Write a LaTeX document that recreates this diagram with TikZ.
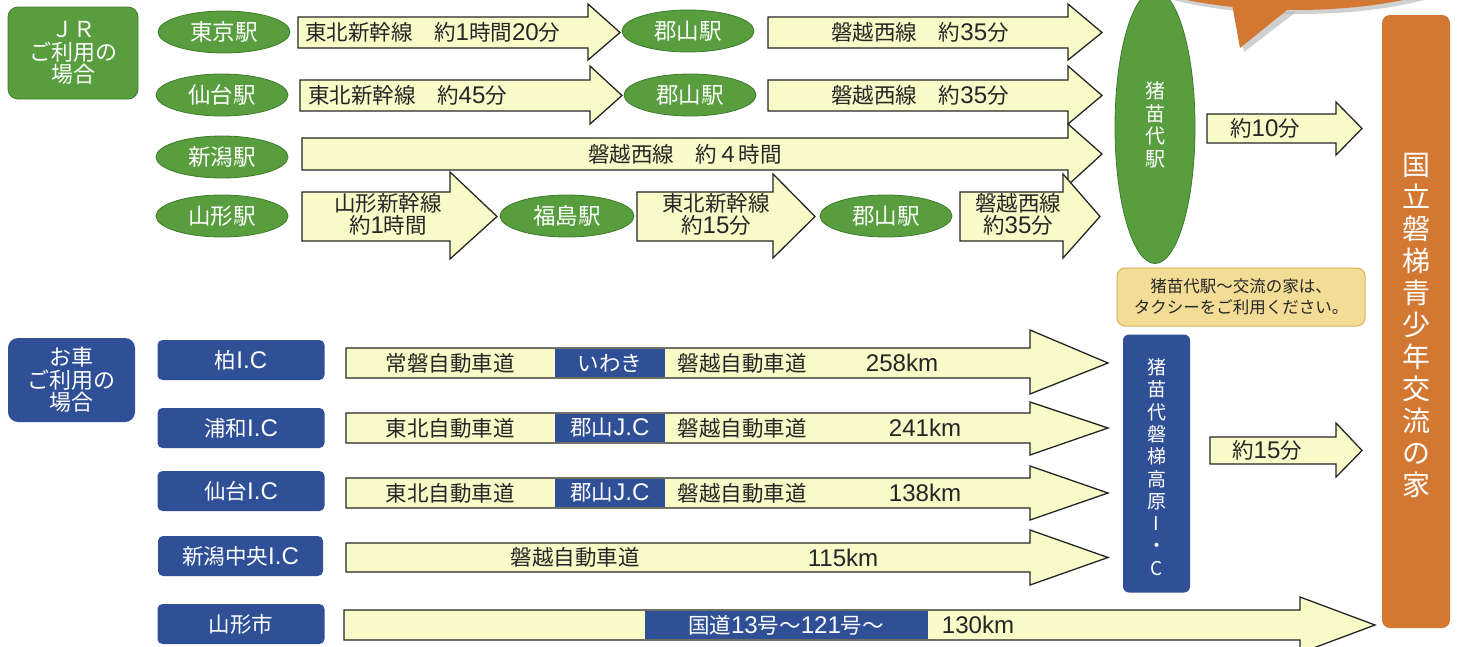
\documentclass[tikz,border=0pt]{standalone}
\usepackage{fontspec}
\setmainfont{Noto Sans CJK JP}
\newfontfamily\latnfont[Scale=1.12]{Liberation Sans}
\newcommand\lt[1]{{\latnfont #1}}
\usetikzlibrary{shapes.geometric}
\definecolor{jrgreen}{HTML}{589E3E}
\definecolor{jrgreenD}{HTML}{3D7A2C}
\definecolor{carblue}{HTML}{2F4F96}
\definecolor{orng}{HTML}{D27832}
\definecolor{ayel}{HTML}{F8FAC8}
\definecolor{notefill}{HTML}{F3DC96}
\definecolor{noteline}{HTML}{D7B45A}
\definecolor{ink}{HTML}{262626}
\tikzset{
  station/.style={ellipse, fill=jrgreen, draw=jrgreenD, line width=0.8pt, text=white,
    font=\fontsize{22.5}{22}\selectfont, minimum width=132pt, minimum height=42pt, inner sep=0pt},
  icbox/.style={rectangle, rounded corners=5pt, fill=carblue, text=white,
    font=\fontsize{21.5}{22}\selectfont, minimum width=167pt, minimum height=40pt, inner sep=0pt},
  headbox/.style={rectangle, rounded corners=10pt, text=white, align=center,
    font=\fontsize{22}{22.5}\selectfont, inner sep=0pt},
  arrowbox/.style={fill=ayel, draw=ink, line width=1.3pt, line join=miter},
  lbl/.style={text=ink, font=\fontsize{21.5}{22}\selectfont, inner sep=0pt, align=center},
  wlbl/.style={text=white, font=\fontsize{21.5}{22}\selectfont, inner sep=0pt},
}
% x1, x2 (head base), ytop, ybot, head top, head bottom, tip x
\newcommand\blkarrow[7]{%
  \draw[arrowbox] (#1,#3) -- (#2,#3) -- (#2,#5) -- (#7,{(#3+#4)/2}) -- (#2,#6) -- (#2,#4) -- (#1,#4) -- cycle;}
\begin{document}
\begin{tikzpicture}[x=1pt,y=-1pt]
\useasboundingbox (0,0) rectangle (1463,646);
\fill[white] (0,0) rectangle (1463,646);

% speech bubble (cut off at the top)
\fill[black!30, opacity=0.6] (1299,-36) ellipse [x radius=180, y radius=50];
\fill[black!30, opacity=0.6] (1236,9) -- (1244,52) -- (1296,12) -- cycle;
\fill[orng] (1295,-40) ellipse [x radius=180, y radius=50];
\fill[orng] (1232,4) -- (1240,48) -- (1292,6) -- cycle;

% destination
\node[rectangle, rounded corners=8pt, fill=orng, minimum width=68pt, minimum height=613pt, inner sep=0pt] (dest) at (1416,321.5) {};
\node[text=white, align=center, font=\fontsize{28}{32}\selectfont, inner sep=0pt] (destlbl) at (1416,326)
  {国\\立\\磐\\梯\\青\\少\\年\\交\\流\\の\\家};

% headers
\node[headbox, fill=jrgreen, draw=jrgreenD, line width=0.8pt, minimum width=130pt, minimum height=92pt] (jr) at (73,53) {ＪＲ\\ご利用の\\場合};
\node[headbox, fill=carblue, minimum width=127pt, minimum height=84pt] (car) at (71.5,380) {お車\\ご利用の\\場合};

% ---------------- JR rows ----------------
\node[station] (tokyo) at (224,32) {東京駅};
\node[station] (sendai) at (222,95) {仙台駅};
\node[station] (niigata) at (222,157) {新潟駅};
\node[station] (yamagata) at (222,216) {山形駅};
\node[station] (koriyamaA) at (688,31) {郡山駅};
\node[station] (koriyamaB) at (690,95) {郡山駅};
\node[station, minimum width=134pt] (fukushima) at (567,216) {福島駅};
\node[station] (koriyamaC) at (886,216) {郡山駅};
\node[ellipse, fill=jrgreen, draw=jrgreenD, line width=0.8pt, minimum width=80pt, minimum height=273pt, inner sep=0pt] (inawashiro) at (1155,127) {};
\node[text=white, align=center, font=\fontsize{20}{22.5}\selectfont, inner sep=0pt] (inawashirolbl) at (1155,125) {猪\\苗\\代\\駅};

\blkarrow{298}{588}{17}{48}{4}{60}{620}
\node[lbl, anchor=west] (t1a) at (305,32.5) {東北新幹線　約\lt{1}時間\lt{20}分};
\blkarrow{768}{1068}{17}{48}{4}{60}{1102}
\node[lbl] (t1b) at (920,32.5) {磐越西線　約\lt{35}分};

\blkarrow{300}{590}{80}{111}{66}{124}{622}
\node[lbl, anchor=west] (t2a) at (308,95.5) {東北新幹線　約\lt{45}分};
\blkarrow{768}{1068}{80}{111}{66}{124}{1102}
\node[lbl] (t2b) at (920,95.5) {磐越西線　約\lt{35}分};

\blkarrow{302}{1068}{138}{170}{124}{185}{1102}
\node[lbl] (t3) at (685,154) {磐越西線　約４時間};

\blkarrow{302}{450}{192}{241}{172}{259}{497}
\node[lbl] (t4a) at (388,214) {山形新幹線\\約\lt{1}時間};
\blkarrow{637}{773}{192}{241}{174}{258}{815}
\node[lbl] (t4b) at (716,214) {東北新幹線\\約\lt{15}分};
\blkarrow{960}{1063}{192}{241}{174}{258}{1100}
\node[lbl] (t4c) at (1018,214) {磐越西線\\約\lt{35}分};

\blkarrow{1207}{1336}{114}{143}{102}{155}{1362}
\node[lbl] (t10) at (1265,128.5) {約\lt{10}分};

\node[rectangle, rounded corners=8pt, fill=notefill, draw=noteline, line width=1pt, minimum width=248pt, minimum height=58pt, inner sep=0pt,
  text=ink, align=center, font=\fontsize{16.5}{21}\selectfont] (note) at (1241,297) {猪苗代駅～交流の家は、\\タクシーをご利用ください。};

% ---------------- Car rows ----------------
\node[icbox] (kashiwa) at (241,360) {柏\lt{I.C}};
\node[icbox] (urawa) at (241,428) {浦和\lt{I.C}};
\node[icbox] (sendaiic) at (241,491) {仙台\lt{I.C}};
\node[icbox, minimum width=165pt] (niigataic) at (240.5,556) {新潟中央\lt{I.C}};
\node[icbox] (yamagatacity) at (241,624) {山形市};

\node[rectangle, rounded corners=6pt, fill=carblue, minimum width=67pt, minimum height=258pt, inner sep=0pt] (bandaiic) at (1156.5,463.5) {};
\node[text=white, align=center, font=\fontsize{19}{22.3}\selectfont, inner sep=0pt] (bandaiiclbl) at (1156.5,467)
  {猪\\苗\\代\\磐\\梯\\高\\原\\I\\・\\C};

\blkarrow{346}{1030}{348}{378}{330}{394}{1108}
\fill[carblue] (555,348.65) rectangle (665,377.35);
\node[lbl] (cA1) at (450,363) {常磐自動車道};
\node[wlbl] (cA2) at (610,363) {いわき};
\node[lbl] (cA3) at (742,363) {磐越自動車道};
\node[lbl] (cA4) at (902,363) {\lt{258km}};

\blkarrow{346}{1030}{413}{443}{402}{455}{1108}
\fill[carblue] (555,413.65) rectangle (665,442.35);
\node[lbl] (cB1) at (450,428) {東北自動車道};
\node[wlbl] (cB2) at (610,428) {郡山\lt{J.C}};
\node[lbl] (cB3) at (742,428) {磐越自動車道};
\node[lbl] (cB4) at (925,428) {\lt{241km}};

\blkarrow{346}{1030}{478}{508}{466}{520}{1108}
\fill[carblue] (555,478.65) rectangle (665,507.35);
\node[lbl] (cC1) at (450,493) {東北自動車道};
\node[wlbl] (cC2) at (610,493) {郡山\lt{J.C}};
\node[lbl] (cC3) at (742,493) {磐越自動車道};
\node[lbl] (cC4) at (925,493) {\lt{138km}};

\blkarrow{346}{1030}{543}{572}{530}{585}{1108}
\node[lbl] (cD1) at (575,557.5) {磐越自動車道};
\node[lbl] (cD2) at (843,557.5) {\lt{115km}};

\blkarrow{344}{1300}{610}{640}{597}{653}{1375}
\fill[carblue] (645,610.65) rectangle (928,639.35);
\node[wlbl] (cE1) at (786,625) {国道\lt{13}号～\lt{121}号～};
\node[lbl] (cE2) at (978,625) {\lt{130km}};

\blkarrow{1210}{1336}{437}{464}{423}{477}{1362}
\node[lbl] (t15) at (1267,450.5) {約\lt{15}分};

\end{tikzpicture}
\end{document}
